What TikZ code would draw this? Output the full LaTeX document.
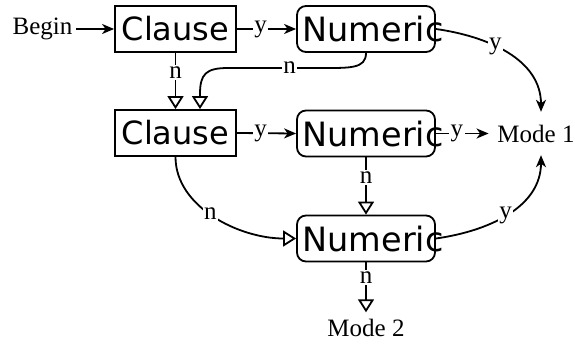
\documentclass[tikz,border=0pt]{standalone}
\usepackage{fontspec}
\setmainfont{Liberation Serif}
\newfontfamily\boxfont{DejaVu Sans}
\usetikzlibrary{arrows.meta}

\begin{document}
\begin{tikzpicture}[x=1pt,y=1pt,
  line width=1.8pt,
  clausebox/.style={draw, minimum width=121pt, minimum height=46pt, inner sep=0pt,
    font=\boxfont\fontsize{32}{38}\selectfont},
  numbox/.style={draw, rounded corners=9pt, minimum width=138pt, minimum height=46pt, inner sep=0pt},
  numtext/.style={inner sep=0pt, font=\boxfont\fontsize{33.5}{40}\selectfont},
  plain/.style={inner sep=3pt, font=\fontsize{25}{30}\selectfont},
  lbl/.style={fill=white, inner sep=1.5pt, font=\fontsize{25}{30}\selectfont},
  yarr/.style={-{Stealth[length=12pt,width=10pt,inset=3.5pt]}},
  narr/.style={-{Triangle[open,length=13pt,width=16pt]}}]
\useasboundingbox (0,0) rectangle (575,346);

% decision boxes
\node[clausebox] (c1) at (175.5,317) {Clause};
\node[clausebox] (c2) at (175.5,213) {Clause};
\node[numbox] (n1) at (366,317) {};
\node[numbox] (n2) at (366,212.5) {};
\node[numbox] (n3) at (366,107.5) {};
\node[numtext] at (373,316.5) {Numeric};
\node[numtext] at (373,212) {Numeric};
\node[numtext] at (373,107) {Numeric};

% terminals
\node[plain] (begin) at (42.5,317) {Begin};
\node[plain, inner xsep=8pt, inner ysep=12pt] (m1) at (536,212.5) {Mode 1};
\node[plain, inner ysep=6pt] (m2) at (366,18) {Mode 2};

% yes branches
\draw[yarr] (begin.east) -- (begin.east -| c1.west);
\draw[yarr] (c1.east) -- node[lbl,pos=0.4]{y} (n1.west);
\draw[yarr] (c2.east) -- node[lbl,pos=0.4]{y} (n2.west);
\draw[yarr] (n2.east) -- node[lbl,pos=0.4]{y} (m1.west);
\draw[yarr] (n1.east) to[out=-8,in=90] node[lbl,pos=0.4]{y} ([xshift=5pt]m1.north);
\draw[yarr] (n3.east) to[out=8,in=-90] node[lbl,pos=0.48]{y} ([xshift=5pt]m1.south);

% no branches
\draw[narr] (c1.south) -- node[lbl,pos=0.35]{n} (c2.north);
\draw[narr] (n1.south) .. controls +(0,-16) and +(30,0) .. (320,278)
  -- node[lbl,pos=0.33]{n} (228,278)
  .. controls (206,278) and (200,272) .. (200,252) -- ([xshift=24.5pt]c2.north);
\draw[narr] (n2.south) -- node[lbl,pos=0.35]{n} (n3.north);
\draw[narr] (c2.south) .. controls +(0,-50) and +(-57,0) .. node[lbl,pos=0.47]{n} (n3.west);
\draw[narr] (n3.south) -- node[lbl,pos=0.3]{n} (m2.north);
\end{tikzpicture}
\end{document}
